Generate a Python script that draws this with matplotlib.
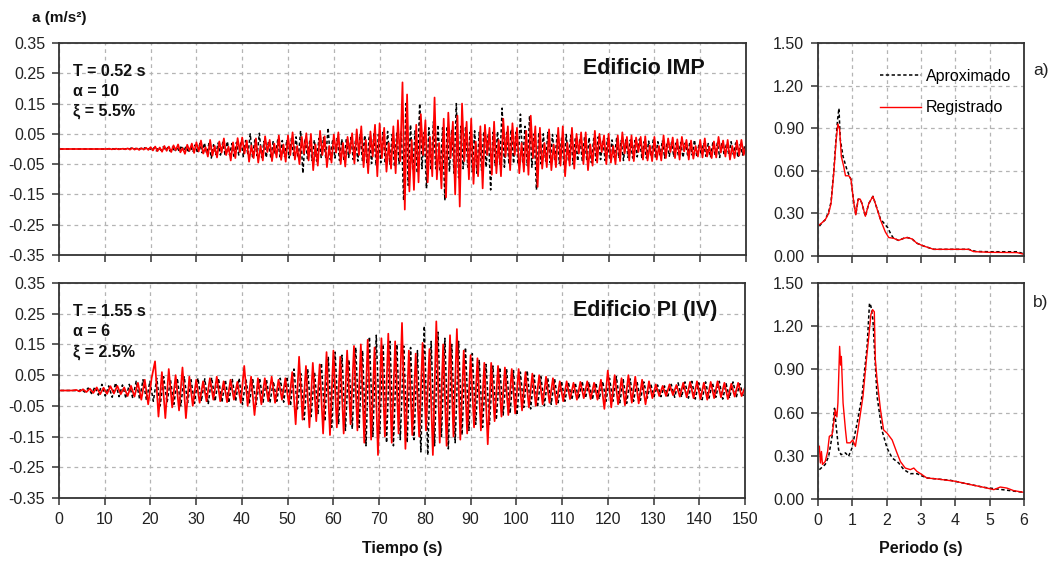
import numpy as np
import matplotlib
matplotlib.use("Agg")
import matplotlib.pyplot as plt

plt.rcParams['font.family'] = ['Liberation Sans', 'DejaVu Sans']

# ---------------- DATA ----------------
# Time histories, acceleration in 0.001 m/s^2
imp_step = 0.5
imp_registrado = [
    0, 0, 0, 0, 0, 0, 0, 0, 0, 0,
    0, 0, 0, 0, 0, 0, 0, 0, 0, 0,
    0, 0, 1, -1, 0, 1, -1, 0, 1, -1,
    2, -2, 3, -2, 2, -3, 3, -2, 4, -3,
    6, -5, 8, -7, 5, -9, 10, -6, 8, -10,
    12, -4, 15, -11, 3, -16, 14, -6, 18, -13,
    22, -8, 28, -15, 6, -25, 30, -22, 10, -28,
    25, -12, 35, -20, 8, -38, 22, -30, 36, -10,
    38, -15, 28, -42, 12, -30, 35, -45, 10, -38,
    42, -10, 30, -40, 18, -28, 45, -36, 15, -42,
    45, -20, 55, -35, 10, -50, 40, -15, 52, -38,
    50, -70, 15, -55, 60, -20, 42, -60, 10, -45,
    48, -12, 55, -50, 20, -58, 40, -15, 52, -48,
    65, -20, 75, -60, 30, -80, 58, -25, 80, -90,
    85, -30, 70, -75, 20, -65, 75, -80, 95, -40,
    220, -200, 180, -140, 30, -135, 80, -110, 115, -20,
    95, -110, 40, -90, 170, -100, 20, -130, 100, -160,
    120, -30, 90, -150, 110, -190, 150, -40, 90, -100,
    100, -115, 25, -90, 75, -130, 80, -20, 70, -85,
    90, -80, 30, -90, 100, -25, 75, -70, 85, -20,
    70, -80, 20, -75, 60, -85, 110, -30, 75, -125,
    70, -65, 20, -60, 65, -70, 15, -60, 70, -55,
    75, -90, 20, -55, 70, -65, 50, -15, 55, -50,
    55, -70, 15, -55, 60, -45, 50, -10, 45, -50,
    50, -45, 10, -50, 45, -40, 55, -15, 40, -38,
    45, -40, 38, -10, 40, -35, 42, -38, 12, -40,
    40, -35, 10, -38, 45, -30, 35, -10, 38, -30,
    32, -35, 40, -8, 30, -35, 28, -32, 10, -25,
    30, -28, 35, -25, 8, -30, 25, -28, 40, -12,
    28, -25, 30, -35, 10, -30, 28, -22, 30, -20,
    10,
]
imp_aproximado = [
    0, 0, 0, 0, 0, 0, 0, 0, 0, 0,
    0, 0, 0, 0, 0, 0, 0, 0, 0, 0,
    0, 1, -1, 1, -1, 1, -1, 1, -1, 1,
    -2, 3, -2, 2, -3, 2, -2, 4, -3, 2,
    -5, 4, -6, 5, -4, 7, -5, 5, -7, 6,
    -9, 7, -8, 11, -7, 9, -12, 8, -10, 14,
    -14, 18, -12, 20, -15, 18, -30, 14, -18, 20,
    -20, 22, -18, 25, -20, 18, -28, 22, -20, 25,
    -25, 28, -20, 50, -26, 30, -22, 52, -28, 25,
    -28, 26, -30, 24, -20, 30, -26, 28, -25, 30,
    -30, 35, -26, 40, -30, 60, -80, 35, -32, 28,
    -38, 30, -40, 35, -28, 38, -30, 70, -35, 32,
    -30, 35, -38, 32, -40, 35, -28, 38, -35, 30,
    -40, 48, -38, 45, -50, 42, -48, 50, -55, 48,
    -45, 55, -48, 58, -50, 48, -58, 55, -48, 60,
    -170, 150, -120, 80, -70, 60, -80, 150, -65, 55,
    -130, 70, -70, 90, -65, 80, -75, 70, -170, 75,
    -75, 65, -80, 150, -95, 75, -65, 70, -60, 55,
    -75, 60, -80, 55, -70, 58, -60, 50, -135, 55,
    -55, 58, -50, 135, -60, 55, -50, 65, -48, 55,
    -50, 115, -48, 75, -55, 110, -60, 50, -135, 55,
    -48, 50, -40, 55, -45, 48, -40, 45, -48, 40,
    -55, 48, -40, 45, -50, 38, -40, 35, -38, 40,
    -40, 38, -45, 35, -38, 40, -35, 30, -38, 35,
    -35, 30, -28, 35, -30, 28, -38, 30, -28, 30,
    -30, 28, -26, 33, -28, 24, -30, 26, -24, 30,
    -26, 24, -20, 28, -30, 20, -24, 22, -26, 20,
    -24, 22, -28, 20, -20, 24, -20, 30, -24, 18,
    -20, 20, -24, 18, -28, 20, -18, 20, -28, 20,
    -20, 18, -20, 24, -18, 20, -28, 15, -20, 14,
]

pi_step = 0.75
pi_registrado = [
    0, 0, 0, 0, 0, 2, -3, 4, -5, 6,
    -8, 10, -12, 9, -11, 14, -10, 15, -12, 10,
    -18, 15, -20, 25, -30, 35, -45, 40, 95, -85,
    60, -90, 70, -55, 50, -65, 75, -90, 45, -50,
    35, -40, 30, -35, 40, -30, 45, -35, 30, -38,
    35, -30, 28, -40, 80, -50, 45, -80, 40, -45,
    40, -35, 45, -40, 35, -30, 40, -45, 60, -110,
    110, -95, 80, -120, 90, -100, 85, -140, 125, -145,
    130, -120, 110, -140, 130, -110, 145, -130, 150, -170,
    165, -160, 140, -210, 170, -150, 185, -170, 160, -140,
    220, -190, 130, -145, 120, -150, 155, -130, 135, -210,
    225, -170, 150, -180, 180, -150, 200, -160, 130, -140,
    115, -120, 105, -130, 90, -175, 90, -100, 80, -85,
    75, -80, 70, -75, 70, -65, 60, -55, 55, -50,
    50, -45, 45, -40, 40, -45, 30, -35, 30, -28,
    25, -30, 28, -25, 30, -28, 25, -30, 35, -60,
    65, -55, 50, -45, 40, -48, 50, -40, 45, -42,
    35, -45, 30, -25, 20, -18, 15, -18, 20, -15,
    18, -20, 25, -22, 28, -25, 30, -28, 25, -30,
    28, -25, 30, -22, 25, -28, 22, -20, 25, -18,
    10,
]
pi_aproximado = [
    0, 0, 0, 0, 0, -3, 4, -5, 8, -10,
    12, -15, 20, -18, 15, -22, 25, -20, 18, -25,
    20, -25, 30, -28, 35, -32, 30, -35, 40, -50,
    45, -40, 35, -45, 40, -50, 45, -40, 35, -42,
    40, -35, 38, -45, 42, -35, 40, -38, 35, -40,
    38, -35, 40, -45, 38, -40, 35, -45, 40, -38,
    35, -40, 30, -35, 40, -38, 45, -50, 70, -60,
    55, -95, 70, -85, 60, -75, 90, -100, 110, -120,
    125, -110, 115, -130, 100, -125, 140, -120, 130, -180,
    175, -150, 180, -140, 150, -170, 160, -180, 150, -160,
    145, -170, 140, -160, 130, -200, 210, -210, 160, -180,
    190, -150, 170, -190, 150, -170, 160, -145, 140, -130,
    120, -110, 100, -120, 85, -110, 80, -95, 75, -80,
    70, -75, 65, -80, 60, -55, 65, -60, 50, -55,
    45, -50, 40, -45, 38, -40, 30, -35, 28, -30,
    25, -28, 30, -25, 28, -30, 25, -28, 30, -35,
    40, -35, 45, -40, 35, -42, 38, -35, 30, -32,
    28, -25, 22, -20, 18, -20, 15, -18, 20, -22,
    25, -22, 28, -25, 30, -28, 25, -30, 28, -25,
    25, -22, 30, -28, 22, -25, 28, -20, 22, -18,
]

# Response spectra: period (s), Sa (m/s^2)
imp_sp_reg_T = [0.04, 0.12, 0.21, 0.31, 0.38, 0.46, 0.53, 0.58, 0.63, 0.68, 0.75, 0.80,
                0.90, 0.96, 1.04, 1.10, 1.17, 1.23, 1.28, 1.38, 1.48, 1.60, 1.67, 1.82,
                1.96, 2.06, 2.20, 2.35, 2.50, 2.60, 2.74, 2.88, 3.08, 3.37, 3.85, 4.39,
                4.53, 5.00, 5.80, 6.00]
imp_sp_reg_Sa = [0.22, 0.235, 0.255, 0.30, 0.37, 0.585, 0.82, 0.93, 0.89, 0.70, 0.63, 0.565,
                 0.565, 0.54, 0.38, 0.29, 0.40, 0.40, 0.37, 0.28, 0.37, 0.42, 0.37, 0.255,
                 0.17, 0.13, 0.125, 0.11, 0.125, 0.13, 0.12, 0.09, 0.07, 0.047, 0.047, 0.047,
                 0.031, 0.026, 0.024, 0.012]
imp_sp_apr_T = [0.04, 0.12, 0.21, 0.31, 0.38, 0.46, 0.51, 0.57, 0.61, 0.65, 0.73, 0.84,
                0.92, 0.96, 1.04, 1.10, 1.17, 1.23, 1.28, 1.38, 1.48, 1.60, 1.67, 1.82,
                1.96, 2.03, 2.13, 2.20, 2.35, 2.50, 2.60, 2.74, 2.88, 3.08, 3.37, 3.85,
                4.39, 4.60, 5.00, 5.80, 6.00]
imp_sp_apr_Sa = [0.21, 0.235, 0.255, 0.31, 0.38, 0.60, 0.775, 0.96, 1.04, 0.82, 0.70, 0.61,
                 0.56, 0.54, 0.38, 0.29, 0.40, 0.40, 0.37, 0.28, 0.37, 0.42, 0.37, 0.26,
                 0.22, 0.20, 0.15, 0.125, 0.11, 0.125, 0.13, 0.12, 0.09, 0.07, 0.047, 0.047,
                 0.047, 0.032, 0.03, 0.03, 0.015]

pi_sp_reg_T = [0.04, 0.07, 0.10, 0.13, 0.21, 0.28, 0.33, 0.41, 0.46, 0.50, 0.55, 0.58,
               0.63, 0.66, 0.68, 0.73, 0.80, 0.84, 0.94, 1.01, 1.09, 1.18, 1.31, 1.41,
               1.48, 1.54, 1.59, 1.64, 1.67, 1.72, 1.82, 1.91, 2.01, 2.16, 2.30, 2.40,
               2.54, 2.69, 2.79, 2.88, 3.03, 3.17, 3.47, 4.00, 4.44, 4.83, 5.12, 5.31,
               5.50, 5.70, 6.00]
pi_sp_reg_Sa = [0.366, 0.25, 0.33, 0.24, 0.26, 0.33, 0.435, 0.447, 0.53, 0.62, 0.57, 0.667,
                1.06, 0.93, 0.99, 0.667, 0.48, 0.39, 0.39, 0.41, 0.366, 0.505, 0.713, 0.967,
                1.13, 1.28, 1.315, 1.30, 0.967, 0.83, 0.62, 0.48, 0.458, 0.41, 0.32, 0.26,
                0.215, 0.204, 0.215, 0.192, 0.169, 0.146, 0.139, 0.123, 0.10, 0.081, 0.065, 0.083,
                0.076, 0.058, 0.046]
pi_sp_apr_T = [0.04, 0.21, 0.31, 0.41, 0.48, 0.53, 0.60, 0.67, 0.80, 0.89, 0.99, 1.14,
               1.28, 1.43, 1.50, 1.54, 1.60, 1.64, 1.72, 1.86, 2.01, 2.16, 2.35, 2.50,
               2.69, 2.88, 3.17, 3.85, 4.83, 6.00]
pi_sp_apr_Sa = [0.204, 0.24, 0.296, 0.435, 0.63, 0.505, 0.343, 0.308, 0.32, 0.296, 0.354, 0.528,
                0.713, 1.06, 1.36, 1.34, 1.245, 1.06, 0.713, 0.48, 0.354, 0.285, 0.25, 0.204,
                0.176, 0.176, 0.146, 0.13, 0.081, 0.046]

# ---------------- FIGURE ----------------
W, H = 1059, 561
fig = plt.figure(figsize=(W / 100, H / 100), dpi=100)


def px_axes(l, t, r, b):
    return fig.add_axes([l / W, 1 - b / H, (r - l) / W, (b - t) / H])


ax_tl = px_axes(59, 43, 746, 255)
ax_bl = px_axes(59, 283, 745, 498)
ax_tr = px_axes(818, 43, 1024, 256)
ax_br = px_axes(818, 283, 1024, 499)

RED = '#ff0000'
GRID = '#b4b4b4'
TICKFS = 11.5


def style(ax):
    ax.grid(True, color=GRID, linestyle=(0, (3, 3)), linewidth=0.9)
    ax.set_axisbelow(True)
    for s in ax.spines.values():
        s.set_color('#333333')
        s.set_linewidth(1.3)
    ax.tick_params(direction='out', length=5, width=1.1, color='#333333',
                   labelsize=TICKFS, labelcolor='#222222', pad=5)


def plot_hist(ax, apr, reg, step_apr, off_apr, step_reg):
    ta = off_apr + np.arange(len(apr)) * step_apr
    tr = np.arange(len(reg)) * step_reg
    ax.plot(ta, np.array(apr) / 1000.0, color='black', linestyle=(0, (2.2, 1.6)), linewidth=1.1)
    ax.plot(tr, np.array(reg) / 1000.0, color=RED, linewidth=1.25)
    ax.set_xlim(0, 150)
    ax.set_ylim(-0.35, 0.35)
    ax.set_xticks(np.arange(0, 151, 10))
    ax.set_yticks(np.arange(-0.35, 0.351, 0.1))
    ax.yaxis.set_major_formatter(matplotlib.ticker.FormatStrFormatter('%.2f'))
    style(ax)


plot_hist(ax_tl, imp_aproximado, imp_registrado, imp_step, imp_step / 2, imp_step)
plot_hist(ax_bl, pi_aproximado, pi_registrado, pi_step, pi_step / 2, pi_step)
ax_tl.tick_params(labelbottom=False)


def plot_spec(ax, Ta, Sa_a, Tr, Sa_r, legend=False):
    ax.plot(Ta, Sa_a, color='black', linestyle=(0, (2.2, 1.6)), linewidth=1.1, label='Aproximado')
    ax.plot(Tr, Sa_r, color=RED, linewidth=1.0, label='Registrado')
    ax.set_xlim(0, 6)
    ax.set_ylim(0, 1.5)
    ax.set_xticks(np.arange(0, 7, 1))
    ax.set_yticks(np.arange(0, 1.51, 0.3))
    ax.yaxis.set_major_formatter(matplotlib.ticker.FormatStrFormatter('%.2f'))
    style(ax)
    if legend:
        ax.legend(loc='upper right', frameon=False, fontsize=11.5, handlelength=2.6,
                  handletextpad=0.3, labelspacing=1.05, borderaxespad=0.4,
                  bbox_to_anchor=(1.0, 0.94))


plot_spec(ax_tr, imp_sp_apr_T, imp_sp_apr_Sa, imp_sp_reg_T, imp_sp_reg_Sa, legend=True)
plot_spec(ax_br, pi_sp_apr_T, pi_sp_apr_Sa, pi_sp_reg_T, pi_sp_reg_Sa)
ax_tr.tick_params(labelbottom=False)

# Annotations
bold = dict(fontweight='bold', color='#111111')
for ax, lines in ((ax_tl, ['T = 0.52 s', 'α = 10', 'ξ = 5.5%']),
                  (ax_bl, ['T = 1.55 s', 'α = 6', 'ξ = 2.5%'])):
    ax.text(0.02, 0.9, '\n'.join(lines), transform=ax.transAxes, fontsize=11.5,
            va='top', ha='left', linespacing=1.4, **bold)

ax_tl.text(0.94, 0.88, 'Edificio IMP', transform=ax_tl.transAxes, fontsize=15.5,
           ha='right', va='center', **bold)
ax_bl.text(0.96, 0.87, 'Edificio PI (IV)', transform=ax_bl.transAxes, fontsize=15.5,
           ha='right', va='center', **bold)

fig.text(32 / W, 1 - 18 / H, 'a (m/s²)', fontsize=11, ha='left', va='center', **bold)
fig.text(402 / W, 1 - 549 / H, 'Tiempo (s)', fontsize=11.5, ha='center', va='center', **bold)
fig.text(921 / W, 1 - 549 / H, 'Periodo (s)', fontsize=11.5, ha='center', va='center', **bold)
fig.text(1041 / W, 1 - 71 / H, 'a)', fontsize=12.5, ha='center', va='center', color='#222222')
fig.text(1041 / W, 1 - 303 / H, 'b)', fontsize=12.5, ha='center', va='center', color='#222222')

fig.savefig('out.png', dpi=100)
